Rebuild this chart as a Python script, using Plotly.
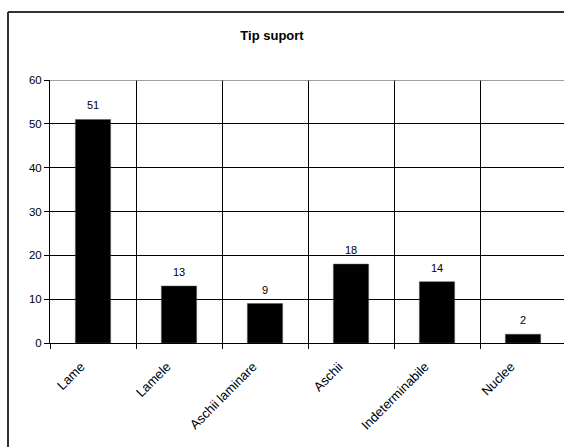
import plotly.graph_objects as go

categories = ["Lame", "Lamele", "Aschii laminare", "Aschii", "Indeterminabile", "Nuclee"]
values = [51, 13, 9, 18, 14, 2]
y_ticks = [0, 10, 20, 30, 40, 50, 60]

W, H = 564, 447
L, R, T, B = 50, 0, 80, 104
pw = W - L - R

def px_x(p):
    return (p - L) / pw

def px_y(p):
    return 1 - (p - T) / (H - T - B)

font = "Liberation Sans, Arial, sans-serif"

fig = go.Figure(go.Bar(
    x=categories, y=values,
    marker=dict(color="black", line=dict(color="#555555", width=0.5)),
    width=0.41,
))

for c, v in zip(categories, values):
    fig.add_annotation(x=c, y=v, text=str(v), showarrow=False, yanchor="bottom",
                       yshift=6, font=dict(family=font, size=11, color="black"))

fig.update_layout(
    width=W, height=H,
    margin=dict(l=L, r=R, t=T, b=B),
    paper_bgcolor="white", plot_bgcolor="white",
    showlegend=False,
    font=dict(family=font, size=11, color="black"),
    title=dict(text="<b>Tip suport</b>", x=272 / W, xanchor="center",
               y=1 - 35 / H, yanchor="middle", font=dict(family=font, size=13, color="black")),
    xaxis=dict(
        type="category", range=[-0.5, 5.5 - 2 / 86], tickson="boundaries",
        showgrid=True, gridcolor="black", gridwidth=1,
        ticks="outside", ticklen=5, tickcolor="black",
        showline=True, linecolor="black", linewidth=1,
        tickangle=-45, tickfont=dict(family=font, size=13, color="black"),
        ticklabelstandoff=10, ticklabelshift=-12, automargin=False,
    ),
    yaxis=dict(
        range=[0, 60], tickvals=y_ticks, showgrid=True, gridcolor="black", gridwidth=1,
        ticks="outside", ticklen=5, tickcolor="black", tickwidth=1,
        showline=True, linecolor="black", linewidth=1, zeroline=False,
        tickfont=dict(family=font, size=11.5, color="black"), automargin=False,
        ticksuffix="\u00a0\u00a0",
    ),
)

# top border of plot area (grey)
fig.add_shape(type="line", xref="paper", yref="y", x0=0, x1=1, y0=60, y1=60,
              line=dict(color="#808080", width=1.5))
# outer chart frame (cropped at right and bottom)
fig.add_shape(type="line", xref="paper", yref="paper", x0=px_x(8), x1=px_x(8),
              y0=px_y(12), y1=px_y(460), line=dict(color="#333333", width=2))
fig.add_shape(type="line", xref="paper", yref="paper", x0=px_x(8), x1=px_x(600),
              y0=px_y(12), y1=px_y(12), line=dict(color="#333333", width=2))

fig.write_html("out.html")
